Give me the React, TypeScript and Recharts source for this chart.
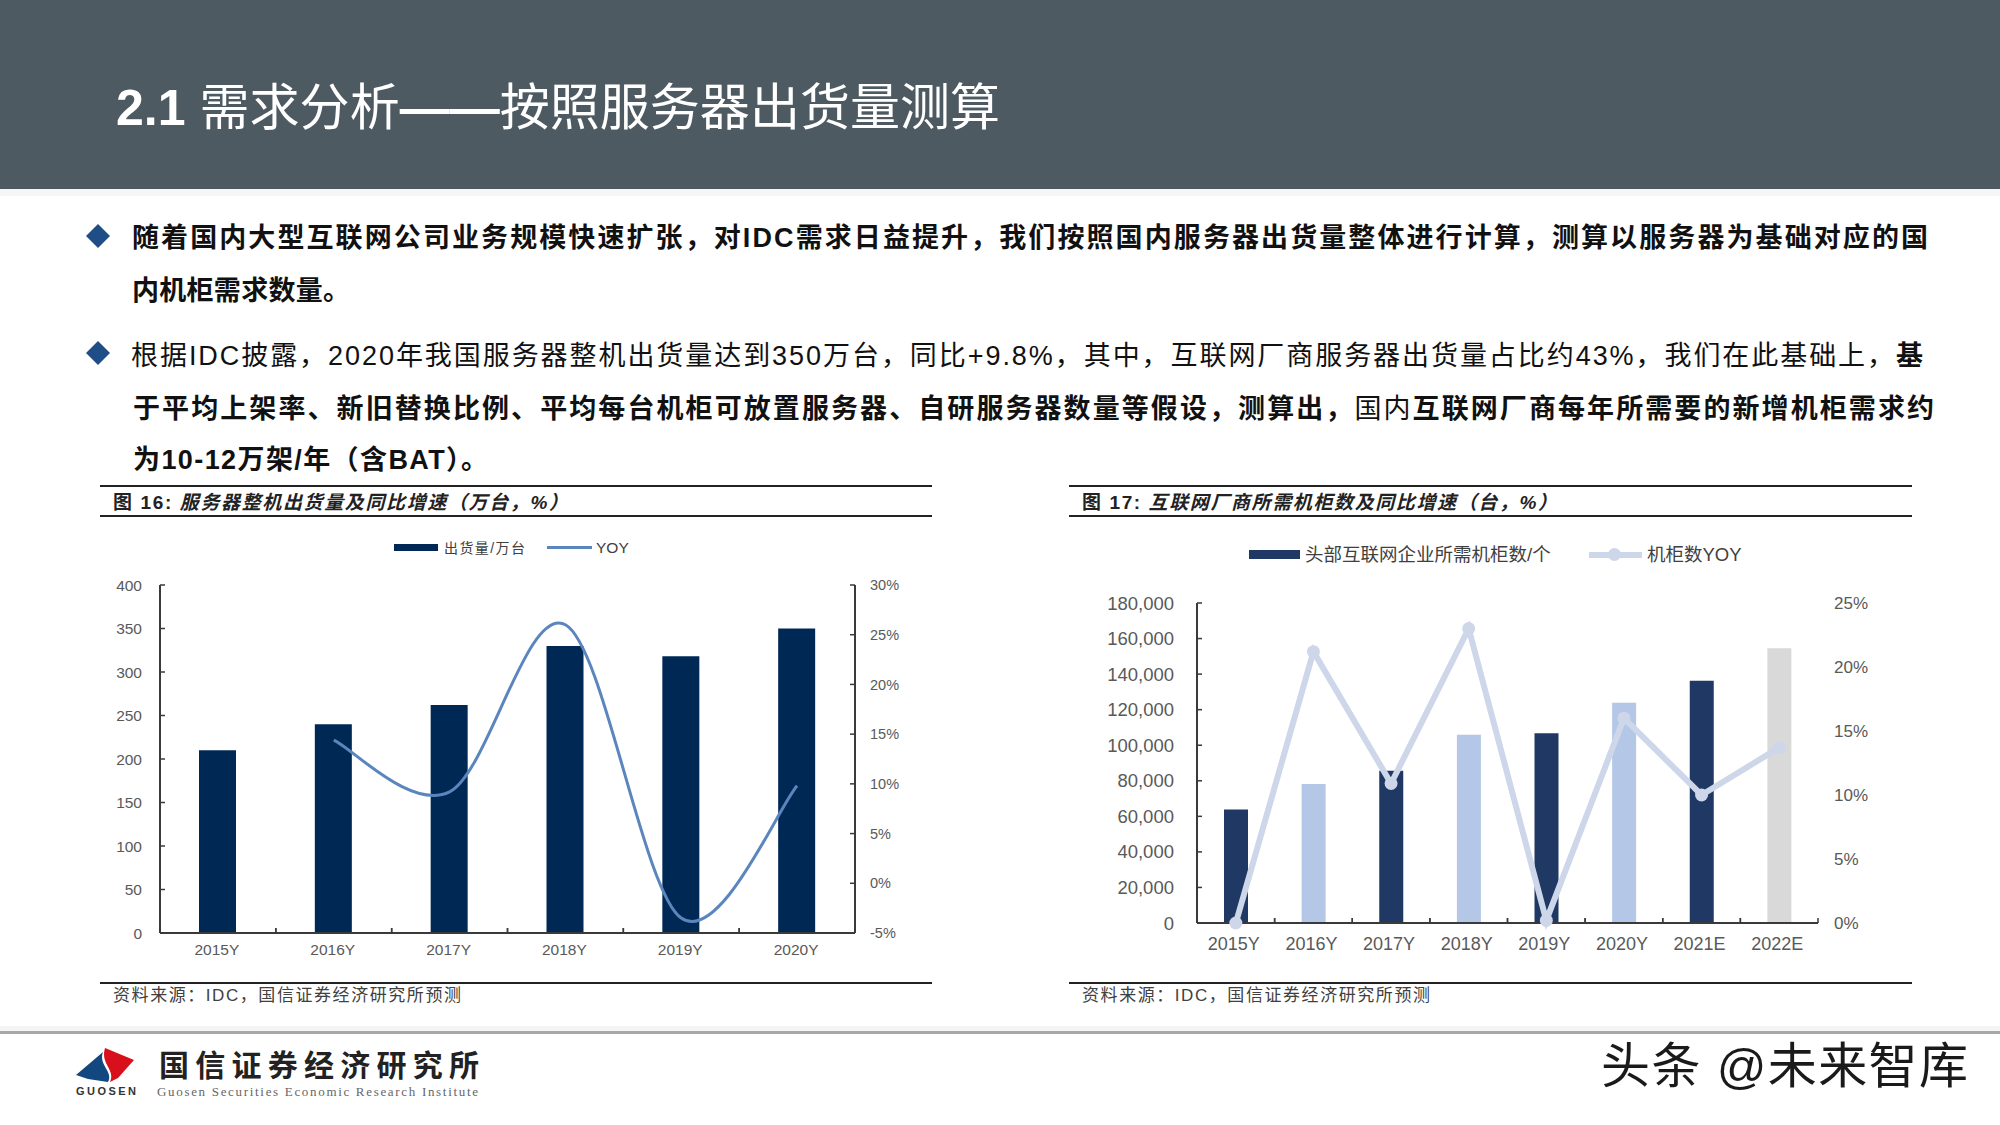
import React from "react";
import { Bar, Cell, ComposedChart, Legend, Line, XAxis, YAxis } from "recharts";

const shipmentYears = ["2015Y", "2016Y", "2017Y", "2018Y", "2019Y", "2020Y"];
const shipmentValues = [210, 240, 262, 330, 318, 350];
const shipmentYoy = [null, 14.4, 9.2, 26, -3.5, 9.8];
const shipmentTicks = [0, 50, 100, 150, 200, 250, 300, 350, 400];
const shipmentYoyTicks = [-5, 0, 5, 10, 15, 20, 25, 30];

const rackYears = ["2015Y", "2016Y", "2017Y", "2018Y", "2019Y", "2020Y", "2021E", "2022E"];
const rackValues = [63800, 78200, 85700, 105900, 106700, 123900, 136200, 154600];
const rackYoy = [0, 21.2, 10.9, 23, 0.2, 16, 10, 13.7];
const rackTicks = [0, 20000, 40000, 60000, 80000, 100000, 120000, 140000, 160000, 180000];
const rackYoyTicks = [0, 5, 10, 15, 20, 25];
const rackColors = ["#1F3864", "#B4C7E7", "#1F3864", "#B4C7E7", "#1F3864", "#B4C7E7", "#1F3864", "#D9D9D9"];

const shipmentData = shipmentYears.map((year, i) => ({ year, value: shipmentValues[i], yoy: shipmentYoy[i] }));
const rackData = rackYears.map((year, i) => ({ year, value: rackValues[i], yoy: rackYoy[i] }));

const LATIN = '"Liberation Sans", "Noto Sans CJK SC", sans-serif';
const AXIS_COLOR = "#3A3A3A";
const LABEL_COLOR = "#595959";

// the source uses Excel's smoothed line, which overshoots its points, so monotone looks wrong here
function excelSmooth(context: any) {
  let pts: number[][] = [];
  return {
    areaStart() {},
    areaEnd() {},
    lineStart() {
      pts = [];
    },
    point(x: number, y: number) {
      pts.push([+x, +y]);
    },
    lineEnd() {
      pts.forEach((p, i) => {
        if (i === 0) {
          context.moveTo(p[0], p[1]);
          return;
        }
        const p0 = pts[i - 2] ?? pts[i - 1];
        const p1 = pts[i - 1];
        const p3 = pts[i + 1] ?? p;
        context.bezierCurveTo(
          p1[0] + (p[0] - p0[0]) / 6,
          p1[1] + (p[1] - p0[1]) / 6,
          p[0] - (p3[0] - p1[0]) / 6,
          p[1] - (p3[1] - p1[1]) / 6,
          p[0],
          p[1]
        );
      });
    },
  };
}

function CategoryTick({ x, y, payload, step, fontSize, labelGap, labelShift = 0 }: any) {
  return (
    <g>
      <line x1={x - step / 2} x2={x - step / 2} y1={y} y2={y - 5} stroke={AXIS_COLOR} strokeWidth={1.5} />
      <line x1={x + step / 2} x2={x + step / 2} y1={y} y2={y - 5} stroke={AXIS_COLOR} strokeWidth={1.5} />
      <text x={x + labelShift} y={y + labelGap} textAnchor="middle" dominantBaseline="central" fontSize={fontSize} fontFamily={LATIN} fill={LABEL_COLOR}>
        {payload.value}
      </text>
    </g>
  );
}

function ShipmentLegend({ payload }: any) {
  const bar = payload?.find((p: any) => p.dataKey === "value");
  const line = payload?.find((p: any) => p.dataKey === "yoy");
  if (!bar || !line) return null;
  return (
    <div style={{ position: "relative", height: 20, fontFamily: LATIN, color: "#404040", whiteSpace: "nowrap" }}>
      <div style={{ position: "absolute", left: 0, top: 6, width: 44, height: 7, background: bar.color }} />
      <div style={{ position: "absolute", left: 50, top: 0, fontSize: 14, letterSpacing: 1.4, lineHeight: "20px" }}>{bar.value}</div>
      <div style={{ position: "absolute", left: 153, top: 8, width: 45, height: 3, background: line.color }} />
      <div style={{ position: "absolute", left: 202, top: 0, fontSize: 15.5, lineHeight: "20px" }}>{line.value}</div>
    </div>
  );
}

function RackLegend({ payload }: any) {
  const bar = payload?.find((p: any) => p.dataKey === "value");
  const line = payload?.find((p: any) => p.dataKey === "yoy");
  if (!bar || !line) return null;
  return (
    <div style={{ position: "relative", height: 24, fontFamily: LATIN, color: "#404040", whiteSpace: "nowrap" }}>
      <div style={{ position: "absolute", left: 0, top: 7, width: 51, height: 9, background: bar.color }} />
      <div style={{ position: "absolute", left: 56, top: 0, fontSize: 18.5, lineHeight: "24px" }}>{bar.value}</div>
      <div style={{ position: "absolute", left: 340, top: 9, width: 53, height: 6, background: line.color }} />
      <div style={{ position: "absolute", left: 359, top: 5, width: 13, height: 13, borderRadius: "50%", background: line.color }} />
      <div style={{ position: "absolute", left: 398, top: 0, fontSize: 18.5, lineHeight: "24px" }}>{line.value}</div>
    </div>
  );
}

function ShipmentChart() {
  return (
    <ComposedChart width={815} height={460} data={shipmentData} margin={{ top: 65, right: 0, bottom: 0, left: 0 }}>
      <XAxis
        dataKey="year"
        height={47}
        interval={0}
        tickSize={0}
        tickMargin={0}
        tickLine={false}
        axisLine={{ stroke: AXIS_COLOR, strokeWidth: 2 }}
        tick={<CategoryTick step={695 / 6} fontSize={15.5} labelGap={16} labelShift={-1} />}
      />
      <YAxis
        yAxisId="left"
        width={60}
        domain={[0, 400]}
        ticks={shipmentTicks}
        interval={0}
        tickSize={-5}
        tickMargin={23}
        axisLine={{ stroke: AXIS_COLOR, strokeWidth: 2 }}
        tickLine={{ stroke: AXIS_COLOR, strokeWidth: 1.5 }}
        tick={{ fill: LABEL_COLOR, fontSize: 15.5, fontFamily: LATIN }}
      />
      <YAxis
        yAxisId="right"
        orientation="right"
        width={60}
        domain={[-5, 30]}
        ticks={shipmentYoyTicks}
        interval={0}
        tickSize={-5}
        tickMargin={20}
        tickFormatter={(v: number) => `${v}%`}
        axisLine={{ stroke: AXIS_COLOR, strokeWidth: 2 }}
        tickLine={{ stroke: AXIS_COLOR, strokeWidth: 1.5 }}
        tick={{ fill: LABEL_COLOR, fontSize: 14.5, fontFamily: LATIN }}
      />
      <Legend
        layout="vertical"
        align="center"
        verticalAlign="middle"
        content={<ShipmentLegend />}
        wrapperStyle={{ left: 294, top: 18, width: 260 }}
      />
      <Bar yAxisId="left" name="出货量/万台" dataKey="value" fill="#002855" barSize={37} isAnimationActive={false} />
      <Line
        yAxisId="right"
        name="YOY"
        dataKey="yoy"
        type={excelSmooth as any}
        stroke="#5B86BD"
        strokeWidth={3}
        dot={false}
        activeDot={false}
        isAnimationActive={false}
      />
    </ComposedChart>
  );
}

function RackChart() {
  return (
    <ComposedChart width={781} height={480} data={rackData} margin={{ top: 83, right: 0, bottom: 0, left: 0 }}>
      <XAxis
        dataKey="year"
        height={77}
        interval={0}
        tickSize={0}
        tickMargin={0}
        tickLine={false}
        axisLine={{ stroke: AXIS_COLOR, strokeWidth: 2 }}
        tick={<CategoryTick step={621 / 8} fontSize={18} labelGap={21} labelShift={-2} />}
      />
      <YAxis
        yAxisId="left"
        width={100}
        domain={[0, 180000]}
        ticks={rackTicks}
        interval={0}
        tickSize={-5}
        tickMargin={28}
        tickFormatter={(v: number) => v.toLocaleString("en-US")}
        axisLine={{ stroke: AXIS_COLOR, strokeWidth: 2 }}
        tickLine={{ stroke: AXIS_COLOR, strokeWidth: 1.5 }}
        tick={{ fill: LABEL_COLOR, fontSize: 18.5, fontFamily: LATIN }}
      />
      <YAxis
        yAxisId="right"
        orientation="right"
        width={60}
        domain={[0, 25]}
        ticks={rackYoyTicks}
        interval={0}
        tickSize={0}
        tickMargin={16}
        tickFormatter={(v: number) => `${v}%`}
        axisLine={false}
        tickLine={false}
        tick={{ fill: LABEL_COLOR, fontSize: 17, fontFamily: LATIN }}
      />
      <Legend
        layout="vertical"
        align="center"
        verticalAlign="middle"
        content={<RackLegend />}
        wrapperStyle={{ left: 152, top: 23, width: 520 }}
      />
      <Bar yAxisId="left" name="头部互联网企业所需机柜数/个" dataKey="value" fill="#1F3864" barSize={24} isAnimationActive={false}>
        {rackColors.map((color, i) => (
          <Cell key={rackYears[i]} fill={color} />
        ))}
      </Bar>
      <Line
        yAxisId="right"
        name="机柜数YOY"
        dataKey="yoy"
        type="linear"
        stroke="#CDD7E9"
        strokeWidth={6}
        dot={{ r: 6.5, fill: "#CDD7E9", stroke: "#CDD7E9", strokeWidth: 0 }}
        activeDot={false}
        isAnimationActive={false}
      />
    </ComposedChart>
  );
}

function Bold({ children }: { children: React.ReactNode }) {
  return <tspan fontWeight={700}>{children}</tspan>;
}

function Slide() {
  const rule = { stroke: "#222", strokeWidth: 2 };
  const captionStyle = { fontFamily: LATIN, fontSize: 19, fontWeight: 700, fill: "#222" } as const;
  const sourceStyle = { fontFamily: LATIN, fontSize: 17, fill: "#404040" };
  return (
    <svg width={2000} height={1125} style={{ position: "absolute", left: 0, top: 0 }} fontFamily={LATIN}>
      <rect x={0} y={0} width={2000} height={189} fill="#4E5A61" />
      <rect x={0} y={189} width={2000} height={7} fill="#F5F6F6" />
      <text x={116} y={125} fontSize={50} fill="#fff" textLength={884}>
        <tspan fontWeight={700}>2.1 </tspan>需求分析<tspan fontWeight={700}>——</tspan>按照服务器出货量测算
      </text>

      <polygon points="98,224 110,236 98,248 86,236" fill="#1F4E86" />
      <polygon points="98,341 110,353 98,365 86,353" fill="#1F4E86" />
      <g fontSize={27} fill="#111">
        <text x={132} y={247} textLength={1796} fontWeight={700}>
          随着国内大型互联网公司业务规模快速扩张，对IDC需求日益提升，我们按照国内服务器出货量整体进行计算，测算以服务器为基础对应的国
        </text>
        <text x={132} y={300} textLength={218} fontWeight={700}>内机柜需求数量。</text>
        <text x={131} y={365} textLength={1792}>
          根据IDC披露，2020年我国服务器整机出货量达到350万台，同比+9.8%，其中，互联网厂商服务器出货量占比约43%，我们在此基础上，<Bold>基</Bold>
        </text>
        <text x={133} y={418} textLength={1801}>
          <Bold>于平均上架率、新旧替换比例、平均每台机柜可放置服务器、自研服务器数量等假设，测算出，</Bold>国内<Bold>互联网厂商每年所需要的新增机柜需求约</Bold>
        </text>
        <text x={133} y={469} textLength={355} fontWeight={700}>为10-12万架/年（含BAT）。</text>
      </g>

      <line x1={100} x2={932} y1={486} y2={486} {...rule} />
      <line x1={100} x2={932} y1={516} y2={516} {...rule} />
      <text x={113} y={509} textLength={455} {...captionStyle}>
        图 16: <tspan fontStyle="italic">服务器整机出货量及同比增速（万台，%）</tspan>
      </text>
      <line x1={100} x2={932} y1={983} y2={983} {...rule} />
      <text x={113} y={1001} textLength={348} {...sourceStyle}>资料来源：IDC，国信证券经济研究所预测</text>

      <line x1={1069} x2={1912} y1={486} y2={486} {...rule} />
      <line x1={1069} x2={1912} y1={516} y2={516} {...rule} />
      <text x={1082} y={509} textLength={475} {...captionStyle}>
        图 17: <tspan fontStyle="italic">互联网厂商所需机柜数及同比增速（台，%）</tspan>
      </text>
      <line x1={1069} x2={1912} y1={983} y2={983} {...rule} />
      <text x={1082} y={1001} textLength={348} {...sourceStyle}>资料来源：IDC，国信证券经济研究所预测</text>

      <rect x={0} y={1026} width={2000} height={5} fill="#F4F4F4" />
      <rect x={0} y={1031} width={2000} height={3} fill="#A8A8A8" />

      <path d="M103,1052 L76,1075 L88,1079 L108,1082 C114,1072 98,1065 103,1052 Z" fill="#12477F" />
      <path d="M105,1048 L134,1060 L118,1078 L110,1082 C116,1070 100,1064 105,1048 Z" fill="#D8101C" />
      <text x={76} y={1095} textLength={60} fontSize={11} fontWeight={700} fill="#333">GUOSEN</text>
      <text x={159} y={1076} textLength={320} fontSize={30} fontWeight={700} fill="#222">国信证券经济研究所</text>
      <text x={157} y={1096} textLength={321} fontSize={13} fontFamily='"Liberation Serif", serif' fill="#666">
        Guosen Securities Economic Research Institute
      </text>

      <text x={1601} y={1083} textLength={367} fontSize={49} fill="#1A1A1A">头条 @未来智库</text>
    </svg>
  );
}

export default function App() {
  return (
    <div style={{ position: "absolute", left: 0, top: 0, width: 2000, height: 1125, background: "#fff", overflow: "hidden" }}>
      <Slide />
      <div style={{ position: "absolute", left: 100, top: 520 }}>
        <ShipmentChart />
      </div>
      <div style={{ position: "absolute", left: 1097, top: 520 }}>
        <RackChart />
      </div>
    </div>
  );
}
